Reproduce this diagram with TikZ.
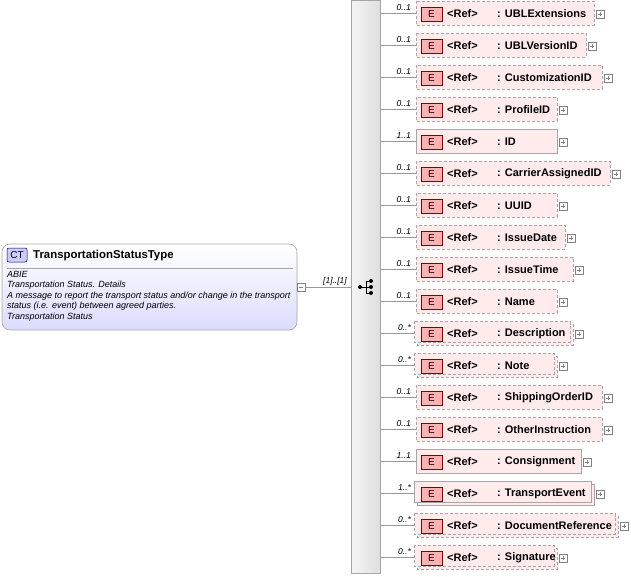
\documentclass[tikz,border=0pt]{standalone}
\usepackage{fontspec}
\setmainfont{Liberation Sans}
\begin{document}
\begin{tikzpicture}[x=1pt,y=-1pt,
  elbox/.style={fill=red!8,draw=gray!70,line width=0.6pt},
  optb/.style={dashed,dash pattern=on 3pt off 2pt},
  eicon/.style={draw=red!50!black,fill=red!30,line width=0.5pt},
  plus/.style={draw=gray,fill=white,line width=0.4pt},
  occ/.style={font=\fontsize{8.5}{9}\selectfont\itshape,anchor=south east,inner sep=1pt},
  lbl/.style={font=\fontsize{11}{13}\selectfont\bfseries,anchor=west,inner sep=0pt},
  conn/.style={draw=gray!80,line width=0.6pt}]
\useasboundingbox (0,0) rectangle (631,577);
% central bar
\draw[draw=gray!70,left color=gray!8,right color=gray!25] (351,0) rectangle (380,573);
% sequence icon
\node[coordinate] (seq) at (366,287) {};
\draw[line width=0.8pt] (360,287)--(366,287) (366,281)--(366,293) (366,281)--(371,281) (366,287)--(371,287) (366,293)--(371,293);
\fill (360,287) circle (2) (371,281) circle (2) (371,287) circle (2) (371,293) circle (2);
% CT box
\draw[draw=gray!70,line width=0.6pt,rounded corners=8pt,top color=white,bottom color=blue!14] (2,244) rectangle (297,330);
\node[coordinate] (ct) at (297,287) {};
\draw[draw=blue!40!black,fill=blue!20,rounded corners=2pt,line width=0.5pt] (7,248) rectangle (27,262);
\node[font=\fontsize{10}{11}\selectfont] at (17,255.5) {CT};
\node[lbl,font=\fontsize{11.4}{13}\selectfont\bfseries] at (33,255.5) {TransportationStatusType};
\draw[gray!70] (7,268)--(293,268);
\node[anchor=north west,align=left,inner sep=0pt,font=\fontsize{9}{10.5}\selectfont\itshape] at (7,271) {ABIE\\Transportation Status. Details\\A message to report the transport status and/or change in the transport\\status (i.e. event) between agreed parties.\\Transportation Status};
\draw[plus] (297,283) rectangle (305,291);
\draw[gray] (299,287)--(303,287);
\draw[conn] (ct) ++(8,0) -- (351,287);
\node[occ] at (348,286) {[1]..[1]};
\foreach \i/\nm/\r/\oc/\t in {
0/UBLExtensions/594/0..1/0, 1/UBLVersionID/586/0..1/0, 2/CustomizationID/602/0..1/0,
3/ProfileID/557/0..1/0, 4/ID/557/1..1/1, 5/CarrierAssignedID/610/0..1/0,
6/UUID/557/0..1/0, 7/IssueDate/565/0..1/0, 8/IssueTime/573/0..1/0,
9/Name/557/0..1/0, 10/Description/573/0..*/2, 11/Note/557/0..*/2,
12/ShippingOrderID/602/0..1/0, 13/OtherInstruction/602/0..1/0, 14/Consignment/581/1..1/1,
15/TransportEvent/594/1..*/3, 16/DocumentReference/618/0..*/2, 17/Signature/557/0..*/2}{
  \pgfmathsetmacro\cy{13+32*\i}
  \ifnum\t>1
    \ifnum\t=2
      \draw[elbox,optb] (417,\cy-9) rectangle (\r,\cy+12);
      \draw[elbox,optb] (414,\cy-12) rectangle (\r-3,\cy+9);
    \else
      \draw[elbox] (417,\cy-9) rectangle (\r,\cy+12);
      \draw[elbox] (414,\cy-12) rectangle (\r-3,\cy+9);
    \fi
    \node[coordinate] (b\i) at (414,\cy) {};
  \else
    \ifnum\t=0
      \draw[elbox,optb] (416,\cy-12) rectangle (\r,\cy+12);
    \else
      \draw[elbox] (416,\cy-12) rectangle (\r,\cy+12);
    \fi
    \node[coordinate] (b\i) at (416,\cy) {};
  \fi
  \node[coordinate] (s\i) at (380,\cy) {};
  \draw[conn] (s\i) -- (b\i);
  \node[occ] at (412,\cy-1) {\oc};
  \draw[eicon] (421,\cy-6) rectangle (442,\cy+8);
  \node[font=\fontsize{10}{11}\selectfont] at (431.5,\cy+1.5) {E};
  \node[lbl] at (447,\cy+1) {<Ref>};
  \node[lbl] at (497,\cy+1) {: \nm};
  \draw[plus] (\r+2,\cy-3) rectangle (\r+10,\cy+5);
  \draw[gray] (\r+4,\cy+1)--(\r+8,\cy+1) (\r+6,\cy-1)--(\r+6,\cy+3);
}
\end{tikzpicture}
\end{document}
